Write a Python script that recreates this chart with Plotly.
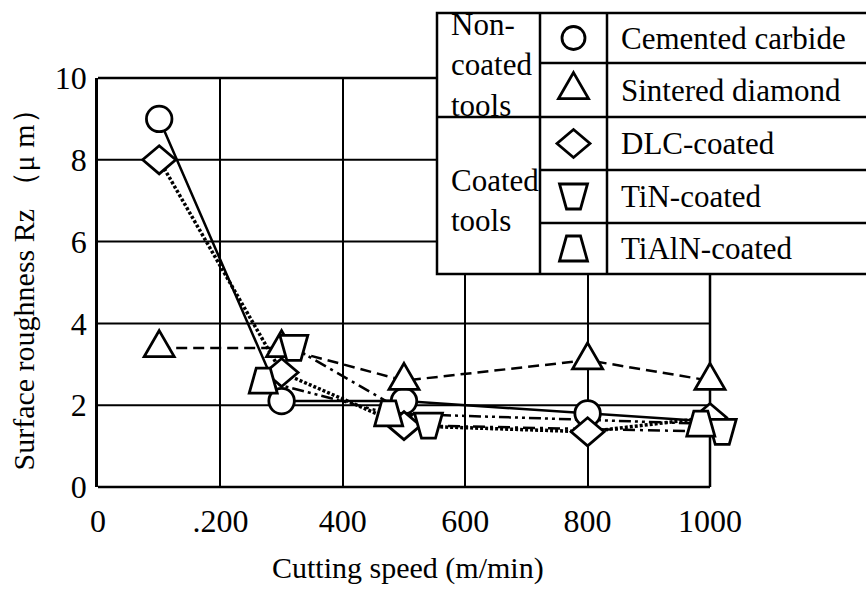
import plotly.graph_objects as go

# Surface roughness Rz (um) against cutting speed (m/min) for each tool
speed_carbide = [100, 300, 500, 800, 1000]
rz_carbide = [9.0, 2.1, 2.1, 1.8, 1.6]

speed_diamond = [100, 300, 500, 800, 1000]
rz_diamond = [3.4, 3.4, 2.6, 3.1, 2.6]

speed_dlc = [100, 300, 500, 800, 1000]
rz_dlc = [8.0, 2.8, 1.5, 1.35, 1.7]

speed_tin = [320, 540, 1020]
rz_tin = [3.4, 1.5, 1.35]

speed_tialn = [270, 475, 985]
rz_tialn = [2.6, 1.8, 1.55]

x_ticks = [0, 200, 400, 600, 800, 1000]
x_tick_labels = ["0", ".200", "400", "600", "800", "1000"]
y_ticks = [0, 2, 4, 6, 8, 10]

group_labels = ["Non-<br>coated<br>tools", "Coated<br>tools"]
tool_names = ["Cemented carbide", "Sintered diamond", "DLC-coated",
              "TiN-coated", "TiAlN-coated"]

FONT = "'Liberation Serif', 'Times New Roman', Times, 'DejaVu Serif', serif"
W, H = 866, 590

# the framed chart spans x 0..1000; the x axis runs a little further so that
# the markers sitting on the right-hand frame are not cut off
X_MAX = 1000
X_LEFT_PX, X_FRAME_PX, X_AREA_PX = 98, 710, 770
X_RANGE_MAX = X_MAX * (X_AREA_PX - X_LEFT_PX) / (X_FRAME_PX - X_LEFT_PX)
M_L, M_R, M_T, M_B = X_LEFT_PX, W - X_AREA_PX, 78, 103
PW, PH = W - M_L - M_R, H - M_T - M_B
MARK_LW = 2.8


def px_x(p):
    return (p - M_L) / PW


def px_y(p):
    return (H - M_B - p) / PH


# marker outlines, pixel offsets around the anchor point (y up)
def poly(pts):
    return "M" + " L".join(f"{x:.2f},{y:.2f}" for x, y in pts) + " Z"


def triangle(w=30, h=26):
    return poly([(0, 2 * h / 3), (w / 2, -h / 3), (-w / 2, -h / 3)])


def diamond(w=33, h=28):
    return poly([(0, h / 2), (w / 2, 0), (0, -h / 2), (-w / 2, 0)])


def trapezoid(top=14, bottom=28, h=25):
    return poly([(-top / 2, h / 2), (top / 2, h / 2),
                 (bottom / 2, -h / 2), (-bottom / 2, -h / 2)])


SYMBOLS = {
    "circle": None,
    "triangle": triangle(),
    "diamond": diamond(),
    "tin": trapezoid(top=28, bottom=14),
    "tialn": trapezoid(top=14, bottom=28),
}


def marker_shape(kind, xa, ya, xref="x", yref="y", d=25.5):
    base = dict(xref=xref, yref=yref, xsizemode="pixel", ysizemode="pixel",
                xanchor=xa, yanchor=ya, layer="above",
                line=dict(color="black", width=MARK_LW), fillcolor="white")
    if kind == "circle":
        return dict(type="circle", x0=-d / 2, x1=d / 2, y0=-d / 2, y1=d / 2, **base)
    return dict(type="path", path=SYMBOLS[kind], **base)


series = [
    ("Cemented carbide", speed_carbide, rz_carbide, "circle", dict(width=2.5, dash="solid")),
    ("Sintered diamond", speed_diamond, rz_diamond, "triangle", dict(width=2.5, dash="11px,6px")),
    ("DLC-coated", speed_dlc, rz_dlc, "diamond", dict(width=3.5, dash="3px,2px")),
    ("TiN-coated", speed_tin, rz_tin, "tin", dict(width=2.5, dash="12px,5px,3px,5px")),
    ("TiAlN-coated", speed_tialn, rz_tialn, "tialn", dict(width=2.5, dash="12px,4px,3px,4px,3px,4px")),
]

shapes = []

# horizontal grid lines and the chart frame, limited to 0..1000
for yv in y_ticks[1:-1]:
    shapes.append(dict(type="line", xref="x", yref="y", layer="below",
                       x0=0, x1=X_MAX, y0=yv, y1=yv,
                       line=dict(color="black", width=2)))
frame = dict(color="black", width=2.5)
shapes.append(dict(type="line", xref="x", yref="paper", layer="below",
                   x0=0, x1=X_MAX, y0=0, y1=0, line=frame))
shapes.append(dict(type="line", xref="x", yref="paper", layer="below",
                   x0=0, x1=X_MAX, y0=1, y1=1, line=frame))
shapes.append(dict(type="line", xref="x", yref="paper", layer="below",
                   x0=X_MAX, x1=X_MAX, y0=0, y1=1, line=frame))

fig = go.Figure()
for name, xs, ys, kind, line in series:
    fig.add_trace(go.Scatter(x=xs, y=ys, mode="lines", name=name,
                             line=dict(color="black", **line),
                             showlegend=False, hoverinfo="skip"))
    for xv, yv in zip(xs, ys):
        shapes.append(marker_shape(kind, xv, yv))

# legend table drawn over the upper right corner of the chart
tbl_l, tbl_r, tbl_t, tbl_b = 437, 868, 13, 274
col_sym, col_txt = 540, 607
row_edges = [13, 63, 117, 170, 223, 274]


def hline(y, x0, x1):
    return dict(type="line", xref="paper", yref="paper", layer="above",
                x0=px_x(x0), x1=px_x(x1), y0=px_y(y), y1=px_y(y),
                line=dict(color="black", width=2.5))


def vline(x, y0, y1):
    return dict(type="line", xref="paper", yref="paper", layer="above",
                x0=px_x(x), x1=px_x(x), y0=px_y(y0), y1=px_y(y1),
                line=dict(color="black", width=2.5))


shapes.append(dict(type="rect", xref="paper", yref="paper", layer="above",
                   x0=px_x(tbl_l), x1=px_x(tbl_r), y0=px_y(tbl_b), y1=px_y(tbl_t),
                   line=dict(color="black", width=2.5), fillcolor="white"))
shapes.append(vline(col_sym, tbl_t, tbl_b))
shapes.append(vline(col_txt, tbl_t, tbl_b))
shapes.append(hline(row_edges[2], tbl_l, tbl_r))
for y in (row_edges[1], row_edges[3], row_edges[4]):
    shapes.append(hline(y, col_sym, tbl_r))

annotations = []
sym_kinds = [s[3] for s in series]
for i, (name, kind) in enumerate(zip(tool_names, sym_kinds)):
    yc = (row_edges[i] + row_edges[i + 1]) / 2
    shapes.append(marker_shape(kind, px_x((col_sym + col_txt) / 2), px_y(yc),
                               xref="paper", yref="paper", d=23))
    annotations.append(dict(x=px_x(619), y=px_y(yc), xref="paper", yref="paper",
                            text=name, showarrow=False, xanchor="left",
                            yanchor="middle", font=dict(size=31)))

annotations.append(dict(x=px_x(449), y=px_y((row_edges[0] + row_edges[2]) / 2),
                        xref="paper", yref="paper", text=group_labels[0],
                        showarrow=False, xanchor="left", yanchor="middle",
                        align="left", font=dict(size=31)))
annotations.append(dict(x=px_x(449), y=px_y(200), xref="paper", yref="paper",
                        text=group_labels[1], showarrow=False, xanchor="left",
                        yanchor="middle", align="left", font=dict(size=31)))

# x axis title, centred under the framed chart
annotations.append(dict(x=px_x(408), y=px_y(568), xref="paper", yref="paper",
                        text="Cutting speed (m/min)", showarrow=False,
                        xanchor="center", yanchor="middle", font=dict(size=30)))

fig.update_layout(
    width=W, height=H,
    margin=dict(l=M_L, r=M_R, t=M_T, b=M_B, autoexpand=False),
    paper_bgcolor="white", plot_bgcolor="white",
    font=dict(family=FONT, color="black"),
    shapes=shapes, annotations=annotations,
    xaxis=dict(range=[0, X_RANGE_MAX], tickvals=x_ticks, ticktext=x_tick_labels,
               showgrid=True, gridcolor="black", gridwidth=2,
               showline=False, zeroline=False, ticks="",
               tickfont=dict(size=32), ticklabelstandoff=12),
    yaxis=dict(range=[0, 10], tickvals=y_ticks,
               showgrid=False, showline=True, linecolor="black", linewidth=2.5,
               zeroline=False, ticks="", tickfont=dict(size=32),
               ticklabelstandoff=2,
               title=dict(text="Surface roughness Rz （μ m）", standoff=12,
                          font=dict(size=30))),
)

fig.write_html("out.html")
